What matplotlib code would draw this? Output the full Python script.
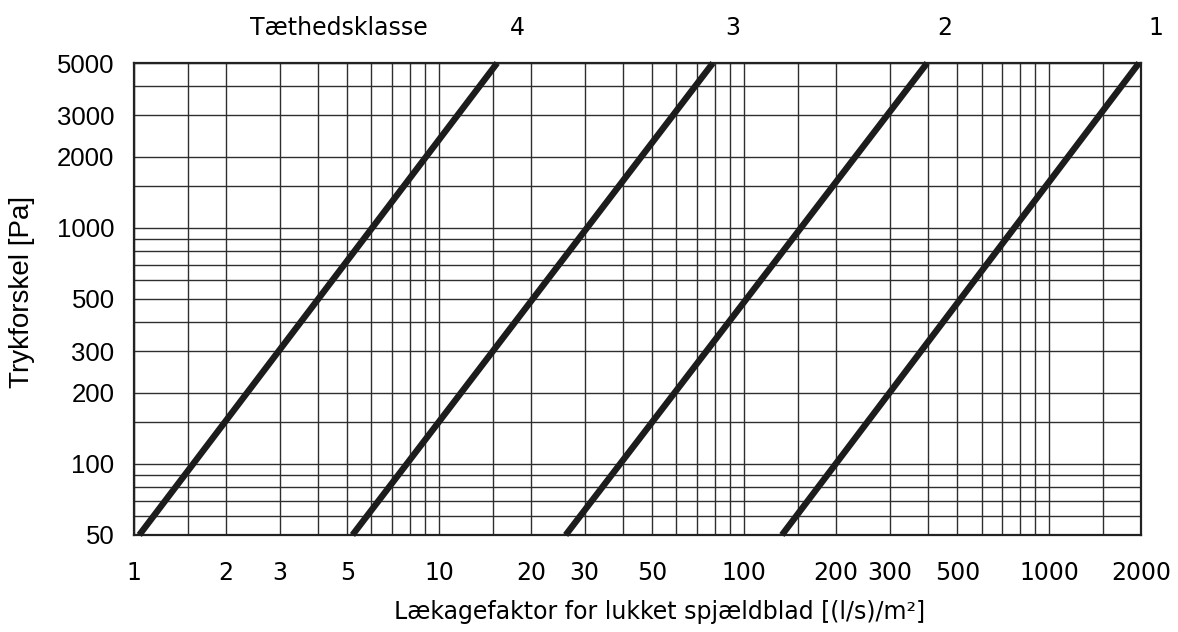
import matplotlib.pyplot as plt
from matplotlib.ticker import NullFormatter

# Tæthedsklasse lines (leakage factor at 50 Pa and at 5000 Pa)
klasse = ['4', '3', '2', '1']
x_ved_50 = [1.04, 5.2, 26, 133]
x_ved_5000 = [15.5, 79, 398, 1970]
tryk = [50, 5000]

x_ticks = [1, 2, 3, 5, 10, 20, 30, 50, 100, 200, 300, 500, 1000, 2000]
y_ticks = [50, 100, 200, 300, 500, 1000, 2000, 3000, 5000]
subs = [1, 1.5, 2, 3, 4, 5, 6, 7, 8, 9]
x_grid = [s * 10 ** k for k in range(4) for s in subs if s * 10 ** k <= 2000]
y_grid = [s * 10 ** k for k in range(1, 4) for s in subs if 50 <= s * 10 ** k <= 5000]
klasse_label_x = [18, 92, 456, 2230]

plt.rcParams['font.family'] = ['DejaVu Sans']
arial = ['Liberation Sans', 'DejaVu Sans']

fig = plt.figure(figsize=(11.78, 6.32), dpi=100)
ax = fig.add_axes([0.1138, 0.1535, 0.8548, 0.7468])

ax.set_xscale('log')
ax.set_yscale('log')
ax.set_xlim(1, 2000)
ax.set_ylim(50, 5000)

ax.set_xticks(x_grid, minor=True)
ax.set_yticks(y_grid, minor=True)
ax.xaxis.set_minor_formatter(NullFormatter())
ax.yaxis.set_minor_formatter(NullFormatter())
ax.set_xticks(x_ticks)
ax.set_xticklabels([str(t) for t in x_ticks], fontsize=17)
ax.set_yticks(y_ticks)
ax.set_yticklabels([str(t) for t in y_ticks], family=arial, fontsize=18.5)
ax.tick_params(which='both', length=0)
ax.tick_params(axis='x', pad=19)
ax.tick_params(axis='y', pad=14)
ax.grid(which='both', color='#2e2e2e', linewidth=1.0)

for s in ax.spines.values():
    s.set_linewidth(1.6)
    s.set_color('#222222')

for k, x0, x1 in zip(klasse, x_ved_50, x_ved_5000):
    ax.plot([x0, x1], tryk, color='#1c1c1c', linewidth=4.6, solid_capstyle='butt',
            clip_on=False, zorder=5)

trans = ax.get_xaxis_transform()
for k, lx in zip(klasse, klasse_label_x):
    ax.text(lx, 1.075, k, transform=trans, ha='center', va='center',
            fontsize=17, clip_on=False)
ax.text(4.7, 1.075, 'Tæthedsklasse', transform=trans, ha='center', va='center',
        fontsize=17, clip_on=False)

ax.set_ylabel('Trykforskel [Pa]', family=arial, fontsize=20)
ax.yaxis.set_label_coords(-0.098, 0.515)
fig.text(0.56, 0.032, 'Lækagefaktor for lukket spjældblad [(l/s)/m²]',
         ha='center', va='center', fontsize=17)

fig.savefig('out.png', dpi=100)
